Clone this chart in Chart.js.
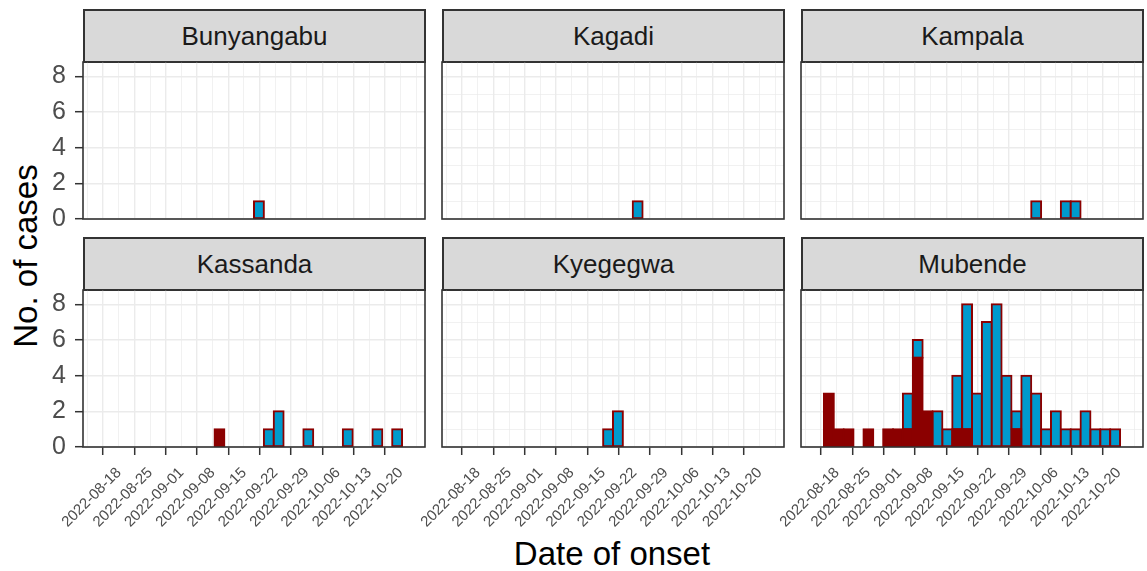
<!DOCTYPE html>
<html>
<head>
  <title>Cases by district and date of onset</title>
  <script src="https://cdn.jsdelivr.net/npm/chart.js"></script>
  <style>
    body { margin: 0; background: #fff; font-family: "Liberation Sans", Arial, sans-serif; }
    #page { position: relative; width: 1147px; height: 571px; overflow: hidden; }
    canvas, .strip, .axis-title { position: absolute; }
    .strip { box-sizing: border-box; background: #D9D9D9; border: 2px solid #333333;
             color: #1A1A1A; font-size: 26px; display: flex; align-items: center; justify-content: center; }
    .axis-title { font-size: 33px; color: #000; line-height: 1; white-space: nowrap; transform: translate(-50%, -50%); }
  </style>
</head>
<body>
  <div id="page">
    <div class="axis-title" style="left: 25px; top: 256px; transform: translate(-50%, -50%) rotate(-90deg);">No. of cases</div>
    <div class="axis-title" style="left: 612px; top: 553px;">Date of onset</div>
  </div>

  <script>
    // districts in facet order
    const districts = ['Bunyangabu', 'Kagadi', 'Kampala', 'Kassanda', 'Kyegegwa', 'Mubende'];

    // counts per histogram bin (30 bins, first onset 2022-08-18, last onset 2022-10-21)
    const bunyangabuProbable  = [0,0,0,0,0,0,0,0,0,0, 0,0,0,0,0,0,0,0,0,0, 0,0,0,0,0,0,0,0,0,0];
    const bunyangabuConfirmed = [0,0,0,0,0,0,0,0,0,0, 0,0,0,0,0,1,0,0,0,0, 0,0,0,0,0,0,0,0,0,0];
    const kagadiProbable      = [0,0,0,0,0,0,0,0,0,0, 0,0,0,0,0,0,0,0,0,0, 0,0,0,0,0,0,0,0,0,0];
    const kagadiConfirmed     = [0,0,0,0,0,0,0,0,0,0, 0,0,0,0,0,0,0,1,0,0, 0,0,0,0,0,0,0,0,0,0];
    const kampalaProbable     = [0,0,0,0,0,0,0,0,0,0, 0,0,0,0,0,0,0,0,0,0, 0,0,0,0,0,0,0,0,0,0];
    const kampalaConfirmed    = [0,0,0,0,0,0,0,0,0,0, 0,0,0,0,0,0,0,0,0,0, 0,1,0,0,1,1,0,0,0,0];
    const kassandaProbable    = [0,0,0,0,0,0,0,0,0,0, 0,1,0,0,0,0,0,0,0,0, 0,0,0,0,0,0,0,0,0,0];
    const kassandaConfirmed   = [0,0,0,0,0,0,0,0,0,0, 0,0,0,0,0,0,1,2,0,0, 1,0,0,0,1,0,0,1,0,1];
    const kyegegwaProbable    = [0,0,0,0,0,0,0,0,0,0, 0,0,0,0,0,0,0,0,0,0, 0,0,0,0,0,0,0,0,0,0];
    const kyegegwaConfirmed   = [0,0,0,0,0,0,0,0,0,0, 0,0,0,0,1,2,0,0,0,0, 0,0,0,0,0,0,0,0,0,0];
    const mubendeProbable     = [3,1,1,0,1,0,1,1,1,5, 2,0,0,1,1,0,0,0,0,1, 0,0,0,0,0,0,0,0,0,0];
    const mubendeConfirmed    = [0,0,0,0,0,0,0,0,2,1, 0,2,1,3,7,3,7,8,4,1, 4,3,1,2,1,1,2,1,1,1];

    const probableByDistrict  = [bunyangabuProbable, kagadiProbable, kampalaProbable, kassandaProbable, kyegegwaProbable, mubendeProbable];
    const confirmedByDistrict = [bunyangabuConfirmed, kagadiConfirmed, kampalaConfirmed, kassandaConfirmed, kyegegwaConfirmed, mubendeConfirmed];

    // x tick labels, one per week (days 0, 7, 14 ... after 2022-08-18)
    const weekLabels = ['2022-08-18', '2022-08-25', '2022-09-01', '2022-09-08', '2022-09-15',
                        '2022-09-22', '2022-09-29', '2022-10-06', '2022-10-13', '2022-10-20'];
    const yTickValues = [0, 1, 2, 3, 4, 5, 6, 7, 8];

    // histogram bins like ggplot's bins = 30: first bin centred on first onset, last on last onset
    const firstDay = 0, lastDay = 64, nBins = 30;
    const binWidth = (lastDay - firstDay) / (nBins - 1);
    const binCenters = probableByDistrict[0].map((_, i) => firstDay + i * binWidth);
    const lo = firstDay - binWidth / 2, hi = lastDay + binWidth / 2;
    const xMin = lo - 0.05 * (hi - lo), xMax = hi + 0.05 * (hi - lo);
    const xTickValues = [];
    for (let v = -3.5; v <= xMax; v += 3.5) xTickValues.push(v);
    const isWeek = v => v >= 0 && Math.abs(v / 7 - Math.round(v / 7)) < 1e-9;

    // panel layout
    const colLeft = [83, 442, 801], rowTop = [62, 290];
    const panelW = 342, panelH = 157, stripH = 53;

    Chart.defaults.font.family = '"Liberation Sans", Arial, sans-serif';

    const panelBorder = {
      id: 'panelBorder',
      afterDraw(chart) {
        const { ctx, chartArea: a } = chart;
        ctx.save();
        ctx.strokeStyle = '#333333';
        ctx.lineWidth = 1.6;
        ctx.strokeRect(a.left, a.top, a.right - a.left, a.bottom - a.top);
        ctx.restore();
      }
    };

    const page = document.getElementById('page');
    const hasBar = c => c.raw && c.raw.y > 0;

    districts.forEach((name, i) => {
      const row = Math.floor(i / 3), col = i % 3;
      const bottomRow = row === 1, leftCol = col === 0;
      const L = leftCol ? 83 : 60, T = 3, R = 3, B = bottomRow ? 571 - (rowTop[1] + panelH) : 16;

      const strip = document.createElement('div');
      strip.className = 'strip';
      strip.textContent = name;
      Object.assign(strip.style, { left: colLeft[col] + 'px', top: (rowTop[row] - stripH) + 'px',
                                   width: (panelW + 1) + 'px', height: (stripH + 1) + 'px' });
      page.appendChild(strip);

      const canvas = document.createElement('canvas');
      canvas.width = L + panelW + R;
      canvas.height = T + panelH + B;
      Object.assign(canvas.style, { left: (colLeft[col] - L) + 'px', top: (rowTop[row] - T) + 'px' });
      page.appendChild(canvas);

      const toPoints = arr => arr.map((y, k) => ({ x: binCenters[k], y: y }));

      new Chart(canvas, {
        type: 'bar',
        data: {
          datasets: [
            { label: 'Probable', data: toPoints(probableByDistrict[i]), backgroundColor: '#8B0000' },
            { label: 'Confirmed', data: toPoints(confirmedByDistrict[i]), backgroundColor: '#009ACD' }
          ]
        },
        options: {
          responsive: false,
          animation: false,
          layout: { padding: { left: 0, top: T, right: R, bottom: 0 } },
          plugins: { legend: { display: false }, tooltip: { enabled: false } },
          datasets: {
            bar: {
              barPercentage: 1,
              categoryPercentage: 1,
              borderColor: '#8B0000',
              borderSkipped: false,
              borderWidth: c => hasBar(c) ? 2 : 0,
              inflateAmount: c => hasBar(c) ? 1 : 0
            }
          },
          scales: {
            x: {
              type: 'linear',
              stacked: true,
              min: xMin,
              max: xMax,
              afterBuildTicks: s => { s.ticks = xTickValues.map(v => ({ value: v })); },
              afterFit: s => { s.height = B; s.paddingLeft = 0; s.paddingRight = 0; },
              ticks: {
                display: bottomRow,
                autoSkip: false,
                minRotation: 45,
                maxRotation: 45,
                padding: 9,
                labelOffset: 8,
                color: '#4D4D4D',
                font: { size: 15 },
                callback: v => isWeek(v) ? weekLabels[Math.round(v / 7)] : ''
              },
              grid: {
                color: '#EBEBEB',
                lineWidth: c => c.tick && isWeek(c.tick.value) ? 1.4 : 0.7,
                drawTicks: bottomRow,
                tickLength: 8,
                tickWidth: 1.5,
                tickColor: c => c.tick && isWeek(c.tick.value) ? '#333333' : 'rgba(0,0,0,0)'
              },
              border: { display: false }
            },
            y: {
              stacked: true,
              min: 0,
              max: 8.8,
              afterBuildTicks: s => { s.ticks = yTickValues.map(v => ({ value: v })); },
              afterFit: s => { s.width = L; s.paddingTop = 0; s.paddingBottom = 0; },
              ticks: {
                display: leftCol,
                padding: 9,
                color: '#4D4D4D',
                font: { size: 25 },
                callback: v => v % 2 === 0 ? v : ''
              },
              grid: {
                color: '#EBEBEB',
                lineWidth: c => c.tick && c.tick.value % 2 === 0 ? 1.4 : 0.7,
                drawTicks: leftCol,
                tickLength: 8,
                tickWidth: 1.5,
                tickColor: c => c.tick && c.tick.value % 2 === 0 ? '#333333' : 'rgba(0,0,0,0)'
              },
              border: { display: false }
            }
          }
        },
        plugins: [panelBorder]
      });
    });
  </script>
</body>
</html>
